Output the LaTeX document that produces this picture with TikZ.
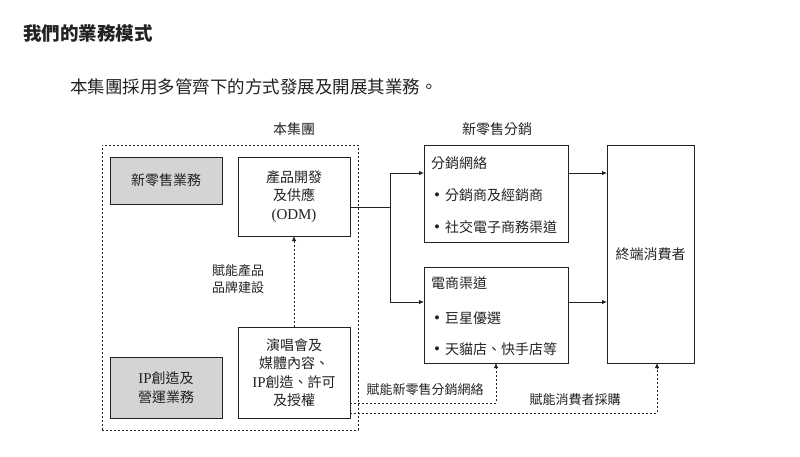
\documentclass[tikz,border=0pt]{standalone}
\usepackage{fontspec}
\newfontfamily\cjk{Noto Sans CJK TC}
\newfontfamily\lat{Liberation Serif}
\usetikzlibrary{arrows.meta,positioning}
\definecolor{ink}{HTML}{222222}
\definecolor{boxgray}{HTML}{D4D4D4}
\newcommand{\bul}{{\lat\fontsize{17}{17}\selectfont •}\hspace{5pt}}
\tikzset{
  base/.style={font=\cjk\fontsize{14}{18.5}\selectfont, text=ink, align=center},
  box/.style={base, draw=ink, line width=0.8pt, inner sep=0pt, outer sep=0pt},
  graybox/.style={box, fill=boxgray},
  dots/.style={draw=ink, line width=0.8pt, dash pattern=on 2pt off 2pt},
  arr/.style={-{Latex[length=5pt,width=4.5pt]}},
  lbl/.style={base, font=\cjk\fontsize{13}{17}\selectfont, inner sep=0pt},
  item/.style={base, anchor=west, inner sep=0pt},
}
\begin{document}
\begin{tikzpicture}[x=1pt,y=-1pt]
\useasboundingbox (0,0) rectangle (800,456);
% headings
\node[base, anchor=west, inner sep=0pt, font=\cjk\bfseries\fontsize{18.5}{20}\selectfont] (title) at (23,33) {我們的業務模式};
\node[base, anchor=west, inner sep=0pt, font=\cjk\fontsize{17.5}{20}\selectfont] (sub) at (70,87) {本集團採用多管齊下的方式發展及開展其業務。};
% group frame
\node[dots, minimum width=256, minimum height=285, inner sep=0pt, outer sep=0pt] (grp) at (230,287.5) {};
\node[lbl, font=\cjk\fontsize{14}{17}\selectfont] (grplbl) at (294,129) {本集團};
\node[lbl, font=\cjk\fontsize{14}{17}\selectfont] (nrlbl) at (497,129) {新零售分銷};
% boxes
\node[graybox, minimum width=112, minimum height=47] (nr) at (166,180.5) {新零售業務};
\node[box, minimum width=112, minimum height=79] (odm) at (294,196.5) {產品開發\\及供應\\{\lat\fontsize{15}{18}\selectfont (ODM)}};
\node[box, minimum width=112, minimum height=91] (ip) at (294,372.5) {演唱會及\\媒體內容、\\{\lat\fontsize{15}{18}\selectfont IP}創造、許可\\及授權};
\node[graybox, minimum width=112, minimum height=61] (ipg) at (166,387.5) {{\lat\fontsize{15}{18}\selectfont IP}創造及\\營運業務};
\node[box, minimum width=144, minimum height=97] (dist) at (496,193.5) {};
\node[box, minimum width=144, minimum height=96] (ecom) at (496,315) {};
\node[box, minimum width=87, minimum height=218] (cons) at (650.5,254) {終端消費者};
% box contents
\node[item] (dt) at (431,163) {分銷網絡};
\node[item] (d1) at (434,195) {\bul 分銷商及經銷商};
\node[item] (d2) at (434,227) {\bul 社交電子商務渠道};
\node[item] (et) at (431,283) {電商渠道};
\node[item] (e1) at (434,318) {\bul 巨星優選};
\node[item] (e2) at (434,349) {\bul 天貓店、快手店等};
% coordinates
\coordinate (odmOut) at (350,207);
\coordinate (j) at (390,207);
\coordinate (dIn) at (424,173);
\coordinate (eIn) at (424,302);
\coordinate (dOut) at (568,173);
\coordinate (eOut) at (568,302);
\coordinate (ipA) at (350,403);
\coordinate (ipB) at (350,413);
\coordinate (consB) at (657,363);
% solid connectors
\draw[ink, line width=0.8pt] (odmOut) -- (j);
\draw[ink, line width=0.8pt, arr] (j) |- (dIn);
\draw[ink, line width=0.8pt, arr] (j) |- (eIn);
\draw[ink, line width=0.8pt, arr] (dOut) -- (cons.west |- dOut);
\draw[ink, line width=0.8pt, arr] (eOut) -- (cons.west |- eOut);
% dotted connectors
\draw[dots, arr] (ip.north) -- (odm.south);
\draw[dots, arr] (ipA) -| (ecom.south);
\draw[dots, arr] (ipB) -| (consB);
% labels
\node[lbl] (l1) at (238,279) {賦能產品\\品牌建設};
\node[lbl] (l2) at (425,390) {賦能新零售分銷網絡};
\node[lbl] (l3) at (575,400) {賦能消費者採購};
\end{tikzpicture}
\end{document}
